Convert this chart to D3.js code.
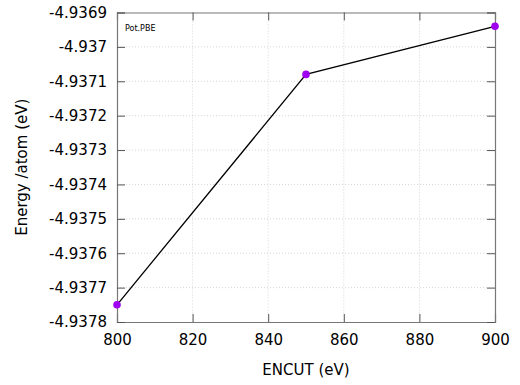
<!DOCTYPE html>
<html>
<head>
<meta charset="utf-8">
<script src="https://cdn.jsdelivr.net/npm/d3@7"></script>
<style>
  body { margin: 0; background: #fff; }
  svg { font-family: "DejaVu Sans", sans-serif; }
</style>
</head>
<body>
<svg id="vis" width="520" height="385"></svg>
<script>
// ENCUT convergence, Pot.PBE
let encut = [800, 850, 900];
let energy = [-4.93775, -4.93708, -4.93694];
let xTicks = [800, 820, 840, 860, 880, 900];
let yTicks = [-4.9369, -4.937, -4.9371, -4.9372, -4.9373, -4.9374, -4.9375, -4.9376, -4.9377, -4.9378];
let seriesName = "Pot.PBE";

let svg = d3.select("#vis");
let margin = {left: 117, right: 25, top: 12.5, bottom: 63};
let width = 520 - margin.left - margin.right,
    height = 385 - margin.top - margin.bottom;

let x = d3.scaleLinear().domain([800, 900]).range([0, width]);
let y = d3.scaleLinear().domain([-4.9378, -4.9369]).range([height, 0]);

let g = svg.append("g").attr("transform", "translate(" + margin.left + "," + margin.top + ")");

// grid
g.selectAll(".gx").data(xTicks.slice(1, -1)).enter().append("line")
    .attr("x1", d => x(d)).attr("x2", d => x(d))
    .attr("y1", 0).attr("y2", height)
    .attr("stroke", "#ccc").attr("stroke-width", 0.8).attr("stroke-dasharray", "1,2");
g.selectAll(".gy").data(yTicks.slice(1, -1)).enter().append("line")
    .attr("y1", d => y(d)).attr("y2", d => y(d))
    .attr("x1", 0).attr("x2", width)
    .attr("stroke", "#ccc").attr("stroke-width", 0.8).attr("stroke-dasharray", "1,2");

// axes, ticks inward on all sides (plain hyphen for minus, gnuplot style)
let fmtY = d => String(+d.toFixed(4));
let axBottom = g.append("g").attr("transform", "translate(0," + height + ")")
    .call(d3.axisBottom(x).tickValues(xTicks).tickSize(-8).tickPadding(12).tickFormat(d => String(d)));
let axTop = g.append("g")
    .call(d3.axisTop(x).tickValues(xTicks).tickSize(-8).tickFormat(""));
let axLeft = g.append("g")
    .call(d3.axisLeft(y).tickValues(yTicks).tickSize(-8).tickPadding(10).tickFormat(fmtY));
let axRight = g.append("g").attr("transform", "translate(" + width + ",0)")
    .call(d3.axisRight(y).tickValues(yTicks).tickSize(-8).tickFormat(""));

[axBottom, axTop, axLeft, axRight].forEach(a => {
    a.select(".domain").attr("stroke", "#777").attr("stroke-width", 1.2);
    a.selectAll(".tick line").attr("stroke", "#555").attr("stroke-width", 1);
    a.selectAll("text").attr("font-size", 15).attr("fill", "#000")
        .attr("font-family", "DejaVu Sans, sans-serif");
});

// series
let line = d3.line().x((d, i) => x(encut[i])).y(d => y(d));
g.append("path").datum(energy)
    .attr("d", line).attr("fill", "none")
    .attr("stroke", "#000").attr("stroke-width", 1.3);
g.selectAll(".pt").data(energy).enter().append("circle")
    .attr("cx", (d, i) => x(encut[i])).attr("cy", d => y(d))
    .attr("r", 3.8).attr("fill", "#a000f0");

// legend
g.append("text").attr("x", 8).attr("y", 18)
    .attr("font-size", 8).text(seriesName);

// axis titles
svg.append("text").attr("x", margin.left + width / 2).attr("y", 375)
    .attr("text-anchor", "middle").attr("font-size", 15).text("ENCUT (eV)");
svg.append("text")
    .attr("transform", "translate(27," + (margin.top + height / 2) + ") rotate(-90)")
    .attr("text-anchor", "middle").attr("font-size", 15).text("Energy /atom (eV)");
</script>
</body>
</html>
